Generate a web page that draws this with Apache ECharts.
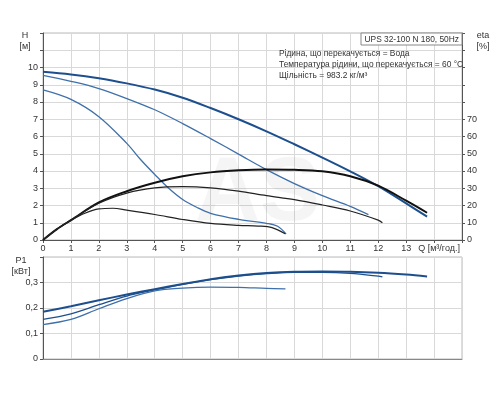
<!DOCTYPE html>
<html>
<head>
<meta charset="utf-8">
<script src="https://cdn.jsdelivr.net/npm/echarts@6/dist/echarts.min.js"></script>
<style>
  html, body { margin: 0; padding: 0; background: #fff; }
  #chart { width: 500px; height: 400px; }
</style>
</head>
<body>
<div id="chart"></div>
<script>
// Напір H (м), ККД eta (%), потужність P1 (кВт) від подачі Q (м³/год.)
const qH1 = [0, 1, 2, 3, 4, 5, 6, 7, 8, 9, 10, 11, 12, 13, 13.75]
const h1 = [9.75, 9.6, 9.38, 9.08, 8.72, 8.25, 7.65, 7.0, 6.3, 5.55, 4.78, 3.98, 3.12, 2.12, 1.35]
const qH2 = [0, 1, 2, 3, 4, 5, 6, 7, 8, 9, 10, 11, 11.65]
const h2 = [9.55, 9.2, 8.78, 8.2, 7.55, 6.75, 5.88, 4.98, 4.08, 3.27, 2.57, 1.95, 1.47]
const qH3 = [0, 1, 2, 3, 3.5, 4, 4.5, 5, 5.5, 6, 7, 8, 8.4, 8.7]
const h3 = [8.7, 8.15, 7.15, 5.6, 4.65, 3.8, 3.0, 2.35, 1.9, 1.55, 1.2, 0.97, 0.8, 0.35]

const qEta1 = [0, 0.5, 1, 2, 3, 4, 5, 6, 7, 8, 9, 10, 11, 12, 13, 13.75]
const eta1 = [0, 6.3, 11.5, 21.8, 28.3, 33.2, 36.9, 39.2, 40.4, 40.9, 40.7, 39.8, 37, 31.5, 22.8, 15.8]
const qEta2 = [0, 0.5, 1, 2, 3, 4, 5, 6, 7, 8, 9, 10, 11, 12, 12.15]
const eta2 = [0, 6.3, 11.5, 21.3, 27.2, 30.2, 30.9, 30.2, 28.3, 25.7, 23.4, 20.3, 16.8, 11.5, 10]
const qEta3 = [0, 0.5, 1, 1.5, 2, 2.5, 3, 4, 5, 6, 7, 7.7, 8.2, 8.67]
const eta3 = [0, 6.3, 11.3, 15.5, 18, 18.4, 17.3, 14.8, 11.9, 9.6, 8.5, 8.1, 7.2, 3.6]

const qP1 = [0, 1, 2, 3, 4, 5, 6, 7, 8, 9, 10, 11, 12, 13, 13.75]
const p1 = [0.185, 0.207, 0.23, 0.253, 0.274, 0.294, 0.313, 0.327, 0.337, 0.342, 0.343, 0.342, 0.338, 0.331, 0.324]
const qP2 = [0, 1, 2, 3, 4, 5, 6, 7, 8, 9, 10, 11, 12, 12.15]
const p2 = [0.155, 0.177, 0.213, 0.247, 0.271, 0.293, 0.311, 0.325, 0.335, 0.34, 0.34, 0.336, 0.325, 0.322]
const qP3 = [0, 1, 2, 3, 4, 5, 6, 7, 8, 8.68]
const p3 = [0.135, 0.155, 0.197, 0.237, 0.267, 0.278, 0.282, 0.281, 0.277, 0.275]

const qTicks = [0, 1, 2, 3, 4, 5, 6, 7, 8, 9, 10, 11, 12, 13]
const hTicks = [0, 1, 2, 3, 4, 5, 6, 7, 8, 9, 10]
const etaTicks = [0, 10, 20, 30, 40, 50, 60, 70]
const pTicks = [0, 0.1, 0.2, 0.3]

const infoLines = [
  'Рідина, що перекачується = Вода',
  'Температура рідини, що перекачується = 60 °C',
  'Щільність = 983.2 кг/м³',
]

const pairs = (xs, ys) => xs.map((x, i) => [x, ys[i]])
const font = "'Liberation Sans', Arial, sans-serif"
const blueDark = '#1d4f8e'
const blueMid = '#3f70aa'
const gridColor = '#d9d9d9'
const axisColor = '#555'

const chart = echarts.init(document.getElementById('chart'))

function line(name, data, x, y, color, width) {
  return {
    name: name,
    type: 'line',
    xAxisIndex: x,
    yAxisIndex: y,
    data: data,
    smooth: 0.35,
    showSymbol: false,
    silent: true,
    lineStyle: { color: color, width: width },
    z: 3,
  }
}

const labelStyle = { color: '#333', fontSize: 9, fontFamily: font }

// маленький текст без фону
function txt(text, x, y, align, size) {
  return {
    type: 'text', x: x, y: y, z: 11,
    style: { text: text, textAlign: align, textVerticalAlign: 'middle', fill: '#333', fontSize: size || 9, fontFamily: font },
  }
}

const option = {
  animation: false,
  backgroundColor: '#fff',
  grid: [
    { left: 43, top: 33, width: 419, height: 207, show: true, borderColor: '#bbb', borderWidth: 1 },
    { left: 43, top: 257, width: 419, height: 102, show: true, borderColor: '#bbb', borderWidth: 1 },
  ],
  xAxis: [
    {
      type: 'value', gridIndex: 0, min: 0, max: 15, interval: 1,
      axisLine: { show: true, onZero: false, lineStyle: { color: axisColor } },
      axisTick: { show: true, length: 3, lineStyle: { color: axisColor } },
      axisLabel: Object.assign({}, labelStyle, {
        margin: 4,
        formatter: v => (qTicks.indexOf(v) >= 0 ? String(v) : ''),
      }),
      splitLine: { show: true, lineStyle: { color: gridColor } },
    },
    {
      type: 'value', gridIndex: 1, min: 0, max: 15, interval: 1,
      axisLine: { show: true, onZero: false, lineStyle: { color: '#888' } },
      axisTick: { show: false },
      axisLabel: { show: false },
      splitLine: { show: true, lineStyle: { color: gridColor } },
    },
  ],
  yAxis: [
    {
      type: 'value', gridIndex: 0, min: 0, max: 12, interval: 1,
      axisLine: { show: true, lineStyle: { color: axisColor } },
      axisTick: { show: true, length: 3, lineStyle: { color: axisColor } },
      axisLabel: Object.assign({}, labelStyle, {
        margin: 5,
        formatter: v => (hTicks.indexOf(v) >= 0 ? String(v) : ''),
      }),
      splitLine: { show: true, lineStyle: { color: gridColor } },
    },
    {
      type: 'value', gridIndex: 0, position: 'right', min: 0, max: 120, interval: 10,
      axisLine: { show: true, lineStyle: { color: axisColor } },
      axisTick: { show: true, length: 3, lineStyle: { color: axisColor } },
      axisLabel: Object.assign({}, labelStyle, {
        margin: 5,
        formatter: v => (etaTicks.indexOf(v) >= 0 ? String(v) : ''),
      }),
      splitLine: { show: false },
    },
    {
      type: 'value', gridIndex: 1, min: 0, max: 0.4, interval: 0.1,
      axisLine: { show: true, lineStyle: { color: axisColor } },
      axisTick: { show: true, length: 3, lineStyle: { color: axisColor } },
      axisLabel: Object.assign({}, labelStyle, {
        margin: 5,
        formatter: v => {
          const r = Math.round(v * 10) / 10
          return pTicks.indexOf(r) >= 0 ? String(r).replace('.', ',') : ''
        },
      }),
      splitLine: { show: true, lineStyle: { color: gridColor } },
    },
  ],
  graphic: [
    // водяний знак
    { type: 'text', left: 195, top: 150, z: 1, silent: true,
      style: { text: 'AS', fontSize: 90, fontWeight: 'bold', fontFamily: font, fill: 'rgba(0,0,0,0.04)' } },
    txt('H', 25, 36, 'center'),
    txt('[м]', 25, 47, 'center'),
    txt('eta', 483, 36, 'center'),
    txt('[%]', 483, 47, 'center'),
    txt('P1', 21, 261, 'center'),
    txt('[кВт]', 21, 272, 'center'),
    txt('Q [м³/год.]', 460, 249, 'right'),
    { type: 'rect', shape: { x: 361, y: 33, width: 101, height: 12 }, z: 10,
      style: { fill: '#fff', stroke: '#888', lineWidth: 1 } },
    txt('UPS 32-100 N 180, 50Hz', 459, 39.5, 'right', 8.4),
  ].concat(infoLines.map((t, i) => txt(t, 279, 54 + i * 11, 'left', 8.4))),
  series: [
    line('H1', pairs(qH1, h1), 0, 0, blueDark, 2),
    line('H2', pairs(qH2, h2), 0, 0, blueMid, 1.3),
    line('H3', pairs(qH3, h3), 0, 0, blueMid, 1.3),
    line('eta1', pairs(qEta1, eta1), 0, 1, '#111', 2),
    line('eta2', pairs(qEta2, eta2), 0, 1, '#222', 1.2),
    line('eta3', pairs(qEta3, eta3), 0, 1, '#222', 1.2),
    line('P1a', pairs(qP1, p1), 1, 2, blueDark, 2),
    line('P1b', pairs(qP2, p2), 1, 2, blueDark, 1.3),
    line('P1c', pairs(qP3, p3), 1, 2, blueMid, 1.3),
  ],
}

chart.setOption(option)
window.addEventListener('resize', function () {
  chart.resize()
})
</script>
</body>
</html>
